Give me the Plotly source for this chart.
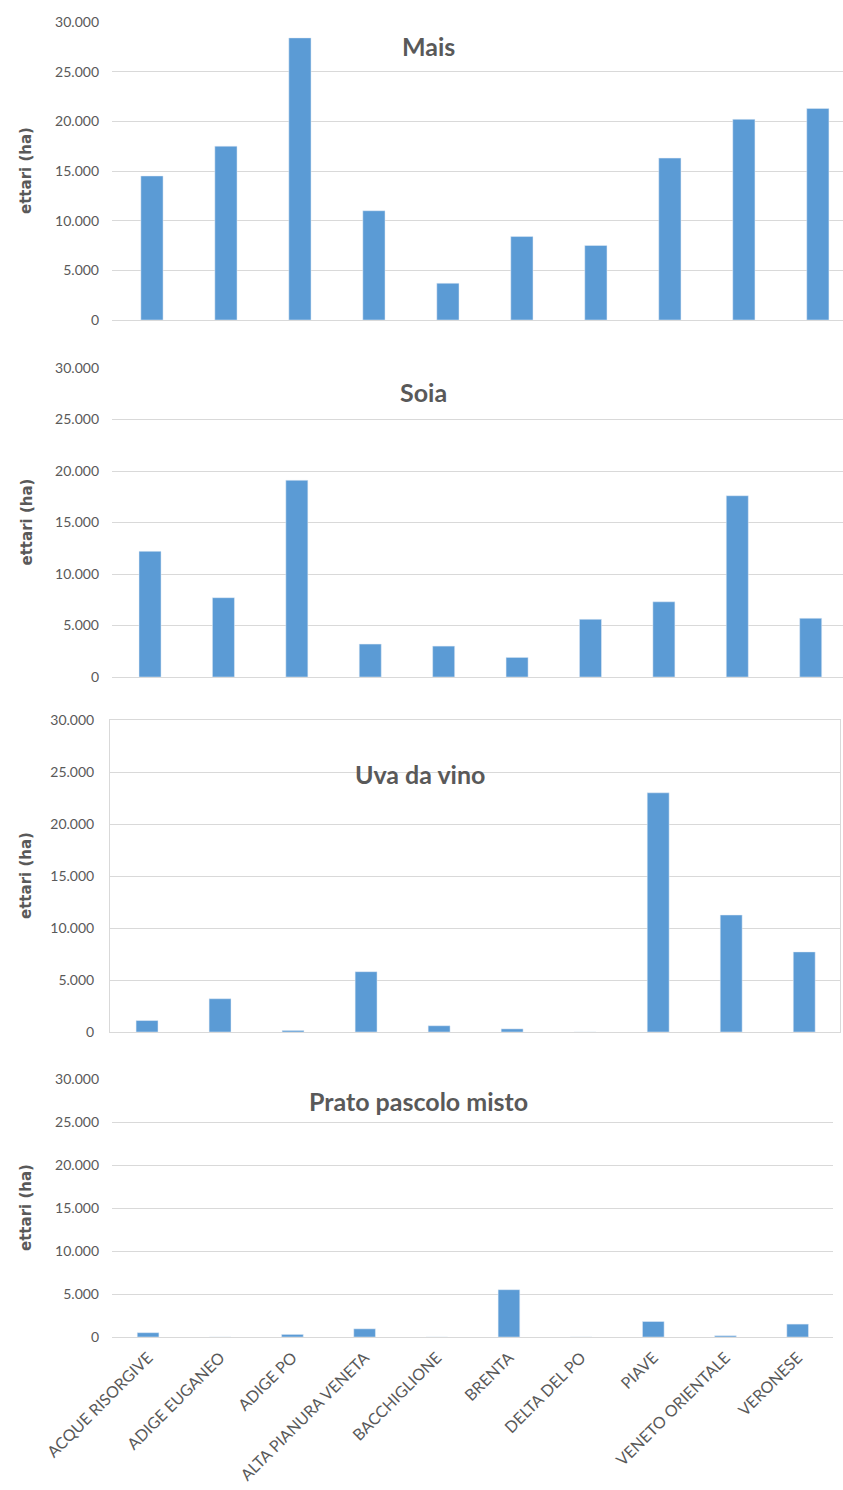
import plotly.graph_objects as go

categories = ["ACQUE RISORGIVE", "ADIGE EUGANEO", "ADIGE PO", "ALTA PIANURA VENETA",
              "BACCHIGLIONE", "BRENTA", "DELTA DEL PO", "PIAVE", "VENETO ORIENTALE", "VERONESE"]
titles = ["Mais", "Soia", "Uva da vino", "Prato pascolo misto"]
mais = [14500, 17500, 28400, 11000, 3700, 8400, 7500, 16300, 20200, 21300]
soia = [12200, 7700, 19100, 3200, 3000, 1900, 5600, 7300, 17600, 5700]
uva = [1100, 3200, 150, 5800, 600, 300, 0, 23000, 11250, 7700]
prato = [500, 0, 300, 950, 0, 5500, 0, 1800, 150, 1500]
series = [mais, soia, uva, prato]
y_ticks = [0, 5000, 10000, 15000, 20000, 25000, 30000]

W, H = 843, 1490
# pixel geometry of each panel: (left, right, top, bottom, xrange)
panels = [
    (112, 843, 22, 320, [-0.54, 9.34]),
    (112, 843, 368, 677, [-0.518, 9.44]),
    (110, 840, 720, 1032, [-0.507, 9.49]),
    (112, 833, 1079, 1337, [-0.5, 9.49]),
]
title_pos = [(428, 46), (423, 392), (420, 774), (418, 1101)]

fig = go.Figure()
grey = "#595959"
for i, (vals, (l, r, t, b, xr)) in enumerate(zip(series, panels)):
    n = "" if i == 0 else str(i + 1)
    fig.add_trace(go.Bar(x=list(range(len(categories))), y=vals, marker_color="#5B9BD5",
                         width=0.3, xaxis="x" + n, yaxis="y" + n, showlegend=False))
    box = (i == 2)
    fig.update_layout(**{
        "xaxis" + n: dict(domain=[l / W, r / W], range=xr, anchor="y" + n,
                          tickmode="array", tickvals=list(range(len(categories))),
                          ticktext=categories, showticklabels=(i == 3), tickangle=-45,
                          tickfont=dict(family="Lato", size=16, color=grey),
                          showgrid=False, showline=True, linecolor="#d9d9d9", linewidth=1,
                          mirror=box, zeroline=False, ticks="", automargin=False,
                          ticklabelstandoff=4),
        "yaxis" + n: dict(domain=[1 - b / H, 1 - t / H], range=[0, 30000], anchor="x" + n,
                          tickmode="array", tickvals=y_ticks, tickformat=",d",
                          tickfont=dict(family="Lato", size=14, color=grey),
                          showgrid=True, gridcolor="#d9d9d9", gridwidth=1, zeroline=False,
                          showline=box, linecolor="#d9d9d9", mirror=box, ticks="",
                          ticklabelstandoff=12, automargin=False),
    })
    tx, ty = title_pos[i]
    fig.add_annotation(x=tx / W, y=1 - ty / H, xref="paper", yref="paper", text=titles[i],
                       showarrow=False, xanchor="center", yanchor="middle",
                       font=dict(family="Lato", size=25, color=grey, weight="bold"))
    fig.add_annotation(x=26 / W, y=1 - (t + b) / 2 / H, xref="paper", yref="paper",
                       text="ettari (ha)", textangle=-90, showarrow=False,
                       xanchor="center", yanchor="middle",
                       font=dict(family="DejaVu Sans", size=15, color=grey, weight="bold"))

fig.update_layout(width=W, height=H, margin=dict(l=0, r=0, t=0, b=0, autoexpand=False),
                  paper_bgcolor="white", plot_bgcolor="white", separators=",.",
                  bargap=0.7)
fig.write_html("out.html")
